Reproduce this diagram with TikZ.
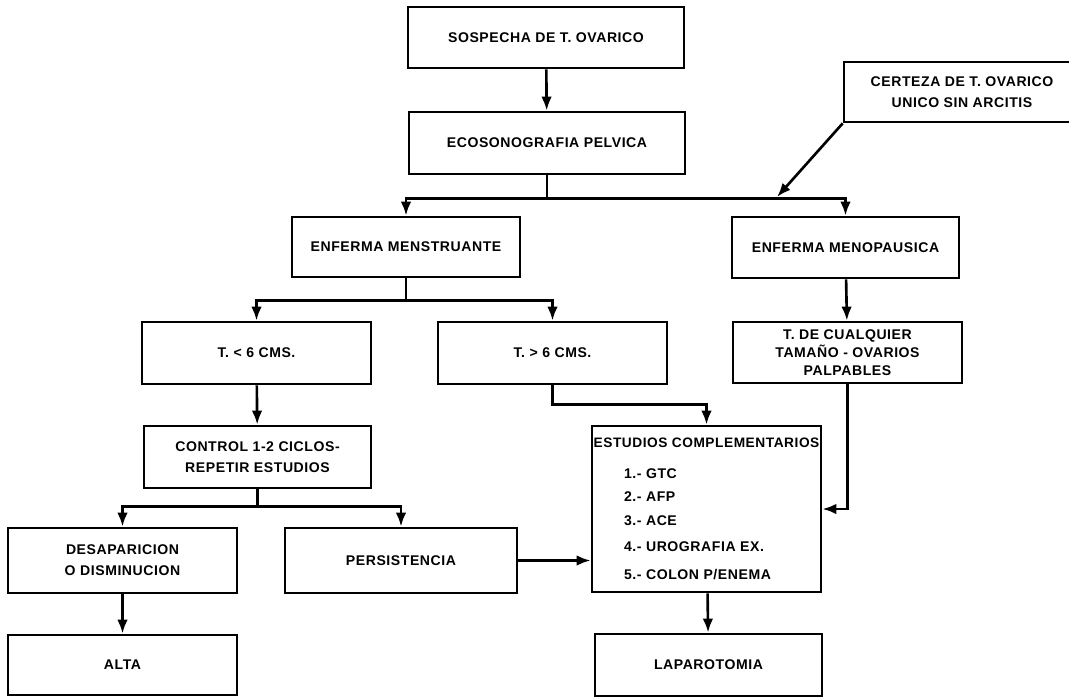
\documentclass[tikz,border=0pt]{standalone}
\usepackage{fontspec}
\setmainfont{Liberation Sans}[LetterSpace=4]
\usetikzlibrary{arrows.meta}
\begin{document}
\begin{tikzpicture}[x=0.02cm,y=-0.02cm,line width=1.5pt,>={Latex[length=8pt,width=6pt]},
	caja/.style={draw,rectangle,inner sep=2pt,align=center,
		minimum width=4.58cm,minimum height=1.24cm,
		font=\bfseries\fontsize{8}{12}\selectfont},
	texto/.style={inner sep=1pt,font=\bfseries\fontsize{8}{12}\selectfont}]
\useasboundingbox (0,0) rectangle (1069,697);

\node[caja,minimum width=5.52cm,minimum height=1.22cm] (sosp) at (546,37.5) {SOSPECHA DE T. OVARICO};
\node[caja,minimum width=5.52cm] (eco) at (547,143) {ECOSONOGRAFIA PELVICA};
\node[caja,minimum width=4.72cm,minimum height=1.2cm] (cert) at (962,92) {CERTEZA DE T. OVARICO\\UNICO SIN ARCITIS};

\node[caja,minimum width=4.56cm,minimum height=1.2cm] (menst) at (406,247) {ENFERMA MENSTRUANTE};
\node[caja,minimum width=4.54cm,minimum height=1.22cm] (menop) at (845.5,247.5) {ENFERMA MENOPAUSICA};

\node[caja] (tmen) at (256.5,353) {T. < 6 CMS.};
\node[caja] (tmay) at (552.5,353) {T. > 6 CMS.};
\node[caja,minimum height=1.22cm,font=\bfseries\fontsize{8}{10.4}\selectfont] (tcual) at (847.5,352.5)
	{T. DE CUALQUIER\\TAMAÑO - OVARIOS\\PALPABLES};

\node[caja,minimum width=4.54cm] (ctrl) at (257.5,457) {CONTROL 1-2 CICLOS-\\REPETIR ESTUDIOS};

% estudios complementarios
\node[caja,minimum height=3.32cm] (estud) at (706.5,509) {};
\node[texto,font=\bfseries\fontsize{7.8}{12}\selectfont] (estit) at (706.5,443) {ESTUDIOS COMPLEMENTARIOS};
\foreach \n/\y/\t in {1/474/{1.- GTC},2/497/{2.- AFP},3/521/{3.- ACE},4/547/{4.- UROGRAFIA EX.},5/575/{5.- COLON P/ENEMA}}
	\node[texto,anchor=west] (item\n) at (621,\y) {\t};

\node[caja,minimum height=1.3cm] (desap) at (122.5,560.5) {DESAPARICION\\O DISMINUCION};
\node[caja,minimum width=4.64cm,minimum height=1.3cm] (pers) at (401,560.5) {PERSISTENCIA};

\node[caja,minimum height=1.2cm] (alta) at (122.5,665) {ALTA};
\node[caja,minimum width=4.54cm,minimum height=1.24cm] (lapa) at (708.5,665) {LAPAROTOMIA};

% conectores
\draw[->] (sosp) -- (eco);
\draw (eco.south) -- ++(0,23) coordinate (j1);
\draw[->] (j1) -| (menst.north);
\draw[->] (j1) -| (menop.north);
\coordinate (jc) at (777,197);
\draw[->] (cert.south west) -- (jc);

\draw (menst.south) -- ++(0,22) coordinate (j2);
\draw[->] (j2) -| (tmen.north);
\draw[->] (j2) -| (tmay.north);
\draw[->] (menop) -- (tcual);

\draw[->] (tmen) -- (ctrl);
\draw[->] (tmay.south) -- ++(0,19) -| (estud.north);
\draw[->] (tcual.south) |- (estud.east);

\draw (ctrl.south) -- ++(0,17) coordinate (j3);
\draw[->] (j3) -| (desap.north);
\draw[->] (j3) -| (pers.north);
\draw[->] (pers.east) -- (pers.east -| estud.west);

\draw[->] (desap) -- (alta);
\draw[->] (estud) -- (lapa);

\end{tikzpicture}
\end{document}
